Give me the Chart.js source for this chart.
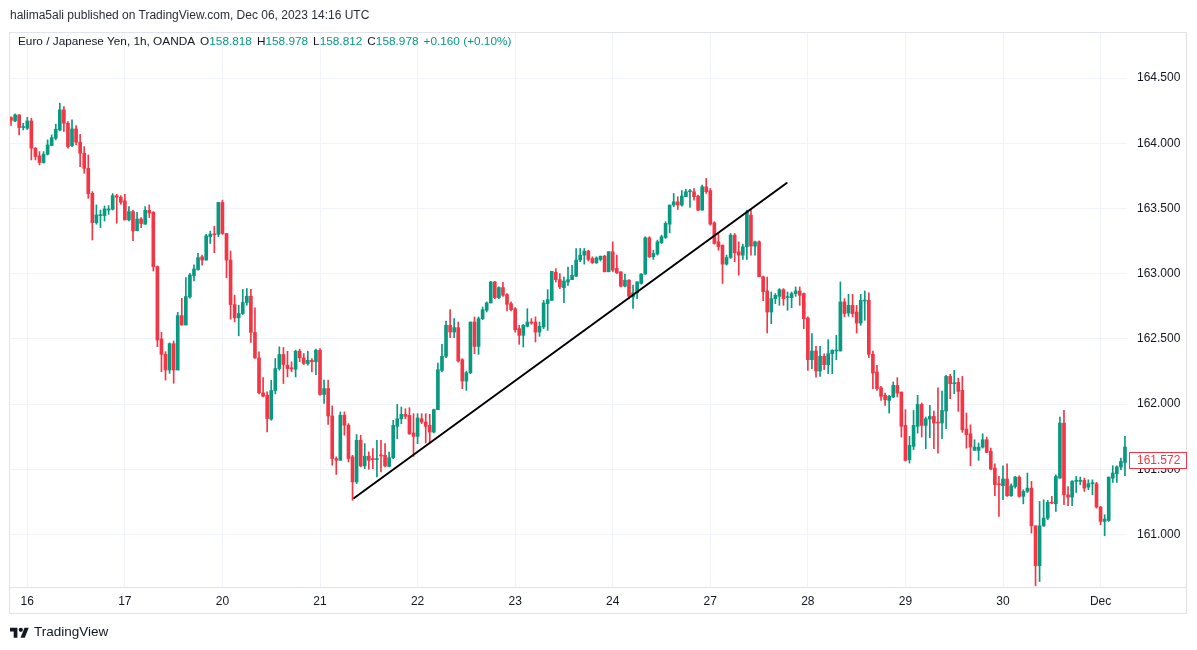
<!DOCTYPE html>
<html>
<head>
<meta charset="utf-8">
<script src="https://cdn.jsdelivr.net/npm/chart.js@4.4.0/dist/chart.umd.min.js"></script>
<style>
html,body{margin:0;padding:0;background:#fff;}
#wrap{position:relative;width:1197px;height:650px;overflow:hidden;font-family:"Liberation Sans",Arial,sans-serif;}
#c{position:absolute;left:0;top:0;}
.t{position:absolute;white-space:nowrap;line-height:16px;}
#pub{left:10px;top:7px;font-size:12px;color:#2a2e39;}
#leg{left:18px;top:33px;font-size:11.8px;color:#131722;}
#leg .g{color:#089981;}
#leg span.p{margin-left:5px;}
#foot{left:10px;top:624px;font-size:13.5px;color:#131722;display:flex;align-items:center;}
#foot svg{margin-right:5px;}
</style>
</head>
<body>
<div id="wrap">
<canvas id="c" width="1197" height="650"></canvas>
<div class="t" id="pub">halima5ali published on TradingView.com, Dec 06, 2023 14:16 UTC</div>
<div class="t" id="leg">Euro / Japanese Yen, 1h, OANDA<span class="p">O<span class="g">158.818</span></span><span class="p">H<span class="g">158.978</span></span><span class="p">L<span class="g">158.812</span></span><span class="p">C<span class="g">158.978</span></span><span class="p g">+0.160 (+0.10%)</span></div>
<div class="t" id="foot"><svg width="19" height="13" viewBox="0 0 36 24"><path d="M14 22H7V10H0V3h14z" fill="#131722"/><circle cx="20.5" cy="7" r="4" fill="#131722"/><path d="M28 22h-8l7.5-19h8z" fill="#131722"/></svg>TradingView</div>
</div>
<script>
// ---- data (EUR/JPY 1h, OANDA) ----
const open = [
164.197,164.171,164.217,164.120,164.115,164.171,163.962,163.903,163.852,163.916,
163.982,164.038,164.102,164.256,164.153,163.982,164.110,164.008,163.923,163.808,
163.616,163.391,163.445,163.445,163.488,163.494,163.598,163.586,163.558,163.412,
163.476,163.330,163.419,163.379,163.486,163.471,163.054,162.499,162.381,162.261,
162.463,162.261,162.678,162.606,162.821,162.985,163.031,163.129,163.104,163.283,
163.303,163.301,163.546,163.308,163.104,162.763,162.661,162.694,162.779,162.827,
162.549,162.354,162.086,162.068,161.884,162.104,162.272,162.380,162.298,162.278,
162.267,162.405,162.354,162.311,162.336,162.324,162.413,162.073,162.119,161.909,
161.582,161.569,161.914,161.838,161.595,161.403,161.722,161.526,161.600,161.582,
161.574,161.607,161.607,161.522,161.588,161.829,161.887,161.921,161.913,161.778,
161.752,161.887,161.862,161.836,161.785,161.957,162.258,162.366,162.604,162.552,
162.586,162.340,162.176,162.240,162.629,162.442,162.655,162.719,162.775,162.936,
162.816,162.893,162.839,162.770,162.731,162.578,162.527,162.596,162.629,162.629,
162.552,162.591,162.770,162.795,163.010,162.954,162.893,162.936,162.954,162.981,
163.104,163.142,163.173,163.116,163.083,163.109,163.134,163.014,163.168,163.040,
163.014,162.904,162.950,162.822,162.853,162.925,162.996,163.275,163.129,163.150,
163.237,163.277,163.380,163.526,163.551,163.526,163.590,163.628,163.628,163.595,
163.487,163.666,163.636,163.390,163.244,163.219,163.073,163.124,163.295,163.168,
163.142,163.206,163.449,163.211,163.244,162.976,162.867,162.706,162.808,162.826,
162.877,162.816,162.816,162.847,162.867,162.847,162.660,162.340,162.407,162.253,
162.366,162.302,162.386,162.407,162.407,162.783,162.698,162.757,162.706,162.621,
162.790,162.795,162.381,162.246,162.125,162.067,162.028,162.054,162.143,162.092,
161.836,161.573,161.675,161.829,161.997,161.836,161.885,161.905,161.859,161.854,
161.946,162.212,162.156,162.166,162.105,161.808,161.772,161.645,161.645,161.670,
161.726,161.637,161.509,161.389,161.373,161.425,161.297,161.368,161.440,161.292,
161.330,161.355,161.066,160.760,161.066,161.125,161.246,161.235,161.432,161.854,
161.304,161.286,161.407,161.407,161.414,161.363,161.389,161.389,161.210,161.100,
161.107,161.432,161.465,161.517,161.552];
const high = [
164.202,164.225,164.220,164.153,164.199,164.192,163.967,163.936,163.936,164.026,
164.064,164.146,164.307,164.281,164.166,164.179,164.136,164.069,163.974,163.910,
163.629,163.527,163.488,163.519,163.522,163.614,163.609,163.598,163.609,163.514,
163.488,163.471,163.430,163.514,163.527,163.476,163.059,162.550,162.402,162.469,
162.483,162.703,162.811,162.969,163.003,163.067,163.156,163.142,163.301,163.326,
163.364,163.546,163.564,163.308,163.173,162.835,162.758,162.879,162.886,162.879,
162.738,162.400,162.203,162.093,162.183,162.349,162.439,162.434,162.405,162.324,
162.413,162.421,162.387,162.405,162.349,162.421,162.426,162.183,162.183,161.986,
161.595,161.940,161.940,161.850,161.607,161.766,161.761,161.697,161.633,161.659,
161.722,161.722,161.697,161.632,161.875,161.997,161.977,161.964,161.972,161.926,
161.926,161.926,161.926,161.921,161.962,162.315,162.458,162.637,162.724,162.655,
162.629,162.348,162.253,162.629,162.668,162.668,162.744,162.783,162.941,162.941,
162.898,162.934,162.847,162.783,162.739,162.604,162.611,162.731,162.655,162.668,
162.629,162.795,162.877,163.018,163.038,163.000,162.974,163.051,163.064,163.193,
163.193,163.193,163.180,163.129,163.129,163.134,163.142,163.168,163.244,163.142,
163.014,162.996,162.955,162.912,162.937,163.001,163.283,163.283,163.180,163.257,
163.295,163.398,163.526,163.615,163.590,163.636,163.646,163.646,163.653,163.602,
163.679,163.730,163.653,163.398,163.308,163.219,163.142,163.308,163.308,163.244,
163.226,163.487,163.492,163.249,163.252,162.981,162.974,162.859,162.847,162.885,
162.885,162.859,162.859,162.898,162.898,162.852,162.668,162.540,162.442,162.442,
162.386,162.494,162.417,162.527,162.936,162.808,162.841,162.841,162.757,162.841,
162.867,162.852,162.407,162.297,162.136,162.084,162.067,162.169,162.202,162.092,
161.957,161.752,161.951,162.067,162.008,161.900,161.990,161.946,162.125,162.100,
162.220,162.228,162.258,162.199,162.212,161.931,161.841,161.726,161.701,161.772,
161.747,161.662,161.542,161.445,161.527,161.542,161.389,161.445,161.450,161.343,
161.471,161.407,161.066,161.253,161.266,161.261,161.292,161.458,161.900,161.951,
161.368,161.414,161.445,161.440,161.432,161.419,161.419,161.399,161.215,161.151,
161.440,161.527,161.527,161.586,161.752];
const low = [
164.136,164.166,164.064,164.102,164.105,163.872,163.872,163.834,163.847,163.910,
163.980,164.026,164.095,164.090,163.962,163.974,163.987,163.821,163.770,163.578,
163.258,163.379,163.353,163.404,163.455,163.488,163.386,163.532,163.412,163.404,
163.253,163.327,163.353,163.379,163.430,163.020,162.440,162.248,162.184,162.235,
162.159,162.261,162.606,162.606,162.811,162.944,163.026,163.065,163.104,163.231,
163.160,163.283,163.301,162.968,162.651,162.630,162.523,162.687,162.758,162.472,
162.349,162.078,162.055,161.786,161.876,162.078,162.260,162.157,162.208,162.247,
162.208,162.324,162.303,162.298,162.247,162.226,162.068,162.004,161.843,161.531,
161.460,161.569,161.761,161.556,161.262,161.390,161.518,161.505,161.500,161.505,
161.442,161.480,161.518,161.517,161.581,161.734,161.849,161.887,161.767,161.598,
161.696,161.849,161.701,161.701,161.778,161.957,162.246,162.355,162.509,162.509,
162.322,162.118,162.105,162.233,162.386,162.381,162.647,162.706,162.775,162.808,
162.808,162.826,162.714,162.714,162.552,162.458,162.437,162.591,162.611,162.476,
162.519,162.578,162.565,162.795,162.936,162.885,162.777,162.910,162.954,162.976,
163.091,163.073,163.098,163.078,163.078,163.098,163.014,163.014,163.014,163.001,
162.899,162.899,162.809,162.733,162.809,162.919,162.996,163.124,163.109,163.142,
163.231,163.270,163.313,163.513,163.492,163.518,163.590,163.508,163.564,163.482,
163.487,163.615,163.372,163.226,163.180,162.925,163.065,163.116,163.091,162.988,
163.109,163.109,163.142,163.142,162.976,162.792,162.545,162.616,162.770,162.757,
162.757,162.719,162.739,162.826,162.757,162.578,162.258,162.271,162.207,162.212,
162.263,162.233,162.233,162.340,162.407,162.668,162.673,162.668,162.545,162.604,
162.642,162.355,162.118,162.105,162.028,161.990,161.931,162.049,162.054,161.747,
161.563,161.547,161.650,161.777,161.747,161.657,161.742,161.657,161.624,161.734,
161.811,162.041,162.079,161.944,161.783,161.662,161.527,161.645,161.568,161.662,
161.629,161.496,161.297,161.138,161.266,161.292,161.292,161.355,161.286,161.235,
161.322,161.010,160.606,160.639,161.061,161.113,161.235,161.176,161.432,161.228,
161.220,161.220,161.322,161.381,161.330,161.343,161.304,161.202,161.074,160.990,
161.100,161.399,161.399,161.496,161.450];
const close = [
164.176,164.217,164.120,164.125,164.171,163.962,163.898,163.852,163.916,163.987,
164.043,164.107,164.256,164.153,163.974,164.110,164.008,163.923,163.808,163.614,
163.391,163.450,163.450,163.496,163.496,163.598,163.586,163.547,163.412,163.476,
163.327,163.419,163.384,163.486,163.465,163.054,162.491,162.381,162.261,162.463,
162.261,162.678,162.606,162.824,162.990,163.036,163.123,163.104,163.290,163.303,
163.298,163.546,163.308,163.104,162.763,162.661,162.694,162.779,162.827,162.549,
162.354,162.086,162.060,161.889,162.104,162.272,162.380,162.303,162.272,162.270,
162.405,162.354,162.311,162.336,162.324,162.413,162.073,162.119,161.909,161.582,
161.569,161.914,161.838,161.582,161.403,161.722,161.526,161.600,161.569,161.574,
161.582,161.602,161.526,161.588,161.836,161.887,161.921,161.905,161.772,161.752,
161.893,161.862,161.829,161.785,161.957,162.263,162.366,162.604,162.552,162.586,
162.330,162.176,162.240,162.629,162.442,162.655,162.724,162.775,162.936,162.816,
162.893,162.834,162.765,162.724,162.570,162.527,162.604,162.629,162.621,162.552,
162.596,162.775,162.801,163.018,162.954,162.898,162.944,162.954,162.987,163.104,
163.142,163.173,163.109,163.083,163.121,163.134,163.014,163.168,163.027,163.006,
162.904,162.950,162.827,162.853,162.937,162.996,163.275,163.129,163.155,163.244,
163.283,163.385,163.526,163.551,163.526,163.595,163.628,163.633,163.590,163.487,
163.666,163.628,163.380,163.231,163.206,163.073,163.124,163.295,163.160,163.142,
163.206,163.474,163.211,163.244,162.976,162.861,162.706,162.808,162.834,162.877,
162.808,162.821,162.847,162.867,162.834,162.655,162.340,162.407,162.253,162.366,
162.302,162.386,162.412,162.412,162.783,162.693,162.757,162.693,162.621,162.795,
162.795,162.381,162.238,162.118,162.059,162.033,162.059,162.143,162.084,161.829,
161.568,161.683,161.836,161.997,161.836,161.887,161.905,161.854,161.854,161.951,
162.212,162.156,162.156,162.097,161.803,161.765,161.670,161.670,161.670,161.726,
161.629,161.501,161.381,161.381,161.425,161.297,161.373,161.440,161.292,161.330,
161.355,161.066,160.760,161.066,161.125,161.246,161.240,161.445,161.854,161.304,
161.286,161.407,161.407,161.414,161.355,161.389,161.389,161.210,161.100,161.118,
161.440,161.471,161.517,161.560,161.670];

// day labels and the bar index where each day starts
const dayLabels = ['16','17','20','21','22','23','24','27','28','29','30','Dec'];
const dayStartIndex = [4,28,52,76,100,124,148,172,196,220,244,268];

// trend line drawn on the chart (bar index, price)
const trendX = [84.4, 190.8];
const trendY = [161.279, 163.695];

// last price label and price scale range
const lastPrice = 161.572;
const priceMin = 160.597;
const priceMax = 164.853;

// ---- chart ----
const UP = '#089981', DOWN = '#F23645';
const colors = close.map((c, i) => c >= open[i] ? UP : DOWN);
const labels = open.map((_, i) => String(i));
const FONT = '"Liberation Sans", Arial, sans-serif';

// trend line, placed through the chart's own x (category) and y scales
const trendPlugin = {
  id: 'trend',
  afterDatasetsDraw(chart) {
    const ctx = chart.ctx, x = chart.scales.x, y = chart.scales.y, a = chart.chartArea;
    ctx.save();
    ctx.beginPath();
    ctx.rect(a.left, a.top, a.right - a.left, a.bottom - a.top);
    ctx.clip();
    ctx.strokeStyle = '#000';
    ctx.lineWidth = 2;
    ctx.lineCap = 'round';
    ctx.beginPath();
    trendX.forEach((v, i) => {
      const px = x.getPixelForValue(v), py = y.getPixelForValue(trendY[i]);
      if (i === 0) ctx.moveTo(px, py); else ctx.lineTo(px, py);
    });
    ctx.stroke();
    ctx.restore();
  }
};

const framePlugin = {
  id: 'frame',
  afterDraw(chart) {
    const ctx = chart.ctx, a = chart.chartArea, y = chart.scales.y, x = chart.scales.x;
    ctx.save();
    ctx.strokeStyle = '#e0e3eb';
    ctx.lineWidth = 1;
    const L = a.left + 0.5, T = a.top + 0.5, R = y.right - 0.5, B = x.bottom - 0.5;
    ctx.strokeRect(L, T, R - L, B - T);
    ctx.beginPath();
    ctx.moveTo(L, a.bottom + 0.5);
    ctx.lineTo(R, a.bottom + 0.5);
    ctx.stroke();
    // last price label
    const py = Math.round(y.getPixelForValue(lastPrice));
    ctx.fillStyle = '#fff';
    ctx.fillRect(a.right + 2, py - 8, 57, 16);
    ctx.strokeStyle = DOWN;
    ctx.strokeRect(a.right + 2.5, py - 7.5, 57, 16);
    ctx.fillStyle = DOWN;
    ctx.font = '12px ' + FONT;
    ctx.textBaseline = 'middle';
    ctx.textAlign = 'left';
    ctx.fillText(lastPrice.toFixed(3), a.right + 10, py + 0.5);
    ctx.restore();
  }
};

new Chart(document.getElementById('c'), {
  type: 'bar',
  data: {
    labels,
    datasets: [
      {
        label: 'body', data: open.map((o, i) => [o, close[i]]),
        backgroundColor: colors, barThickness: 3, grouped: false,
        minBarLength: 1, borderWidth: 0, order: 1
      },
      {
        label: 'wick', data: low.map((l, i) => [l, high[i]]),
        backgroundColor: colors, barThickness: 1, grouped: false,
        borderWidth: 0, order: 2
      }
    ]
  },
  options: {
    responsive: false,
    animation: false,
    events: [],
    layout: { padding: { left: 9, top: 32, right: 10, bottom: 36 } },
    plugins: { legend: { display: false }, tooltip: { enabled: false } },
    scales: {
      x: {
        type: 'category', offset: true,
        grid: { offset: false, color: '#f0f3fa', drawTicks: false },
        border: { display: false },
        ticks: {
          autoSkip: false, maxRotation: 0, minRotation: 0, padding: 7,
          color: '#131722', font: { size: 12, family: FONT },
          callback: (v, i) => { const k = dayStartIndex.indexOf(i); return k < 0 ? null : dayLabels[k]; }
        },
        afterFit: s => { s.height = 27; }
      },
      y: {
        position: 'right', min: priceMin, max: priceMax,
        grid: { color: '#f0f3fa', drawTicks: false },
        border: { display: false },
        ticks: {
          stepSize: 0.5, includeBounds: false, padding: 10,
          color: '#131722', font: { size: 12, family: FONT },
          callback: v => Number(v).toFixed(3)
        },
        afterFit: s => { s.width = 60; }
      }
    }
  },
  plugins: [trendPlugin, framePlugin]
});
</script>
</body>
</html>
